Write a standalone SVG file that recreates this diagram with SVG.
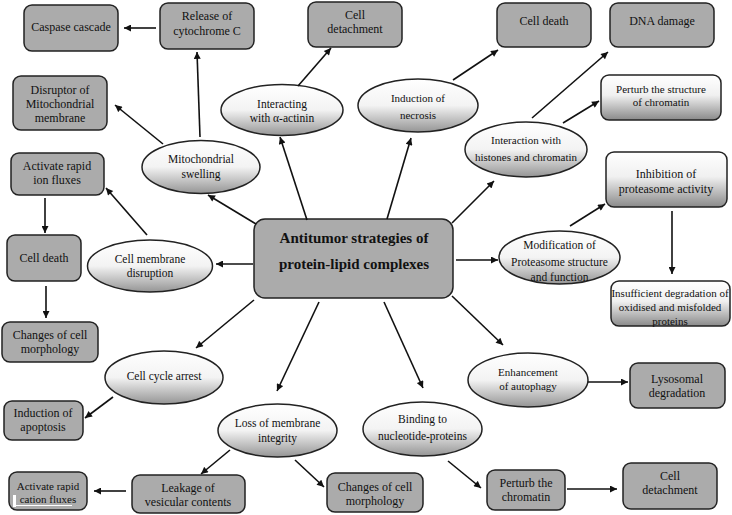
<svg xmlns="http://www.w3.org/2000/svg" width="732" height="515" viewBox="0 0 732 515">
<defs>
<linearGradient id="eg" x1="0" y1="0" x2="0" y2="1">
<stop offset="0" stop-color="#ffffff"/>
<stop offset="0.5" stop-color="#f3f3f3"/>
<stop offset="1" stop-color="#959595"/>
</linearGradient>
<linearGradient id="bg" x1="0" y1="0" x2="0" y2="1">
<stop offset="0" stop-color="#ffffff"/>
<stop offset="0.45" stop-color="#f0f0f0"/>
<stop offset="1" stop-color="#8a8a8a"/>
</linearGradient>
<marker id="ah" viewBox="0 0 10 10" refX="10" refY="5" markerWidth="9" markerHeight="7" markerUnits="userSpaceOnUse" orient="auto">
<path d="M0,0 L10,5 L0,10 z" fill="#111"/>
</marker>
</defs>
<style>
.b{fill:#ababab;stroke:#222;stroke-width:1.5}
.g{fill:url(#bg);stroke:#222;stroke-width:1.5}
.e{fill:url(#eg);stroke:#222;stroke-width:1.5}
text{font-family:"Liberation Serif","Times New Roman",serif;font-size:12px;fill:#111;text-anchor:middle}
.s{font-size:11px}
.m{font-size:11.5px}
.c{font-size:15px;font-weight:bold}
#conn line{stroke:#111;stroke-width:1.6;marker-end:url(#ah)}
</style>
<rect width="732" height="515" fill="#fff"/>

<g id="center"><rect class="b" x="254" y="219" width="199" height="79" rx="11"/>
<text class="c" x="354" y="243">Antitumor strategies of</text>
<text class="c" x="354" y="269">protein-lipid complexes</text></g>

<g id="caspase"><rect class="b" x="24" y="5" width="94" height="46" rx="8"/><text x="71" y="31">Caspase cascade</text></g>
<g id="cytochrome"><rect class="b" x="160" y="3" width="94" height="46" rx="8"/><text x="207" y="20">Release of</text><text x="207" y="35">cytochrome C</text></g>
<g id="detach1"><rect class="b" x="308" y="2" width="94" height="45" rx="8"/><text x="355" y="19">Cell</text><text x="355" y="33">detachment</text></g>
<g id="death1"><rect class="b" x="497" y="3" width="94" height="44" rx="8"/><text x="544" y="25">Cell death</text></g>
<g id="dna"><rect class="b" x="610" y="3" width="104" height="44" rx="8"/><text x="662" y="25">DNA damage</text></g>
<g id="perturb1"><rect class="g" x="601" y="75" width="120" height="45" rx="8"/><text class="s" x="661" y="93">Perturb the structure</text><text class="s" x="661" y="106">of chromatin</text></g>
<g id="inhib"><rect class="g" x="606" y="152" width="121" height="55" rx="8"/><text x="666" y="178">Inhibition of</text><text x="666" y="193">proteasome activity</text></g>
<g id="insuff"><rect class="g" x="611" y="281" width="119" height="45" rx="8"/><text class="s" x="670" y="297">Insufficient degradation of</text><text class="s" x="670" y="311">oxidised and misfolded</text><text class="s" x="670" y="325">proteins</text></g>
<g id="disruptor"><rect class="b" x="13" y="76" width="94" height="54" rx="8"/><text x="60" y="94">Disruptor of</text><text x="60" y="108">Mitochondrial</text><text x="60" y="122">membrane</text></g>
<g id="ionflux"><rect class="b" x="11" y="153" width="93" height="42" rx="8"/><text x="57" y="170">Activate rapid</text><text x="57" y="184">ion fluxes</text></g>
<g id="death2"><rect class="b" x="7" y="235" width="74" height="46" rx="8"/><text x="44" y="262">Cell death</text></g>
<g id="morph1"><rect class="b" x="2" y="322" width="96" height="40" rx="8"/><text x="50" y="339">Changes of cell</text><text x="50" y="353">morphology</text></g>
<g id="apoptosis"><rect class="b" x="4" y="401" width="79" height="39" rx="8"/><text x="43" y="417">Induction of</text><text x="43" y="431">apoptosis</text></g>
<g id="cation"><rect class="b" x="9" y="472" width="78" height="38" rx="8"/><text class="s" x="48" y="490">Activate rapid</text><text class="s" x="48" y="503">cation fluxes</text><rect x="13" y="495" width="3" height="12" fill="#fff"/><rect x="16" y="505" width="56" height="1" fill="#fff"/></g>
<g id="leakage"><rect class="b" x="132" y="475" width="113" height="38" rx="8"/><text x="188" y="492">Leakage of</text><text x="188" y="506">vesicular contents</text></g>
<g id="morph2"><rect class="b" x="327" y="473" width="96" height="39" rx="8"/><text x="375" y="491">Changes of cell</text><text x="375" y="505">morphology</text></g>
<g id="perturb2"><rect class="b" x="487" y="470" width="78" height="40" rx="8"/><text x="526" y="487">Perturb the</text><text x="526" y="501">chromatin</text></g>
<g id="detach2"><rect class="b" x="623" y="463" width="94" height="46" rx="8"/><text x="670" y="480">Cell</text><text x="670" y="494">detachment</text></g>
<g id="lyso"><rect class="b" x="630" y="363" width="95" height="45" rx="8"/><text x="677" y="383">Lysosomal</text><text x="677" y="397">degradation</text></g>

<g id="mito"><ellipse class="e" cx="201" cy="167" rx="59" ry="26.5"/><text class="m" x="201" y="163">Mitochondrial</text><text class="m" x="201" y="178">swelling</text></g>
<g id="actinin"><ellipse class="e" cx="282" cy="110" rx="61" ry="25.5"/><text class="m" x="282" y="108">Interacting</text><text class="m" x="282" y="122">with α-actinin</text></g>
<g id="necrosis"><ellipse class="e" cx="418" cy="105.5" rx="60" ry="26.5"/><text class="s" x="418" y="102">Induction of</text><text class="s" x="418" y="119">necrosis</text></g>
<g id="histones"><ellipse class="e" cx="526" cy="149.5" rx="61" ry="27.5"/><text class="s" x="526" y="144">Interaction with</text><text class="s" x="526" y="161">histones and chromatin</text></g>
<g id="proteasome"><ellipse class="e" cx="559.5" cy="257.5" rx="60.5" ry="26.5"/><text class="m" x="559.5" y="249">Modification of</text><text class="m" x="559.5" y="266">Proteasome structure</text><text class="m" x="559.5" y="281">and function</text></g>
<g id="membrane"><ellipse class="e" cx="150" cy="266" rx="62.5" ry="26"/><text class="m" x="150" y="263">Cell membrane</text><text class="m" x="150" y="277">disruption</text></g>
<g id="cycle"><ellipse class="e" cx="164" cy="377.5" rx="59" ry="26.5"/><text class="m" x="164" y="380">Cell cycle arrest</text></g>
<g id="loss"><ellipse class="e" cx="277.5" cy="430.5" rx="59.5" ry="26.5"/><text class="m" x="277.5" y="427">Loss of membrane</text><text class="m" x="277.5" y="442">integrity</text></g>
<g id="binding"><ellipse class="e" cx="422.5" cy="429" rx="59.5" ry="27"/><text class="m" x="422.5" y="423">Binding to</text><text class="m" x="422.5" y="440">nucleotide-proteins</text></g>
<g id="autophagy"><ellipse class="e" cx="528" cy="380" rx="60" ry="27"/><text class="s" x="528" y="376">Enhancement</text><text class="s" x="528" y="390">of autophagy</text></g>

<g id="conn">
<line x1="256" y1="224" x2="208" y2="195"/>
<line x1="307" y1="220" x2="280" y2="137"/>
<line x1="387" y1="219" x2="411" y2="138"/>
<line x1="452" y1="223" x2="494" y2="181"/>
<line x1="456" y1="260" x2="498" y2="260"/>
<line x1="452" y1="296" x2="503" y2="345"/>
<line x1="384" y1="302" x2="423" y2="388"/>
<line x1="319" y1="302" x2="277" y2="391"/>
<line x1="254" y1="300" x2="196" y2="348"/>
<line x1="253" y1="264" x2="216" y2="264"/>
<line x1="200" y1="137" x2="197" y2="52"/>
<line x1="163" y1="144" x2="115" y2="105"/>
<line x1="156" y1="28" x2="124" y2="28"/>
<line x1="298" y1="86" x2="331" y2="48"/>
<line x1="453" y1="80" x2="498" y2="50"/>
<line x1="532" y1="118" x2="608" y2="52"/>
<line x1="563" y1="123" x2="599" y2="101"/>
<line x1="570" y1="226" x2="605" y2="204"/>
<line x1="672" y1="211" x2="672" y2="274"/>
<line x1="588" y1="382" x2="628" y2="382"/>
<line x1="448" y1="461" x2="481" y2="488"/>
<line x1="567" y1="489" x2="617" y2="489"/>
<line x1="295" y1="460" x2="324" y2="487"/>
<line x1="230" y1="450" x2="201" y2="474"/>
<line x1="126" y1="491" x2="94" y2="491"/>
<line x1="113" y1="397" x2="85" y2="418"/>
<line x1="147" y1="235" x2="106" y2="188"/>
<line x1="45" y1="198" x2="45" y2="233"/>
<line x1="46" y1="286" x2="46" y2="318"/>
</g>
</svg>
